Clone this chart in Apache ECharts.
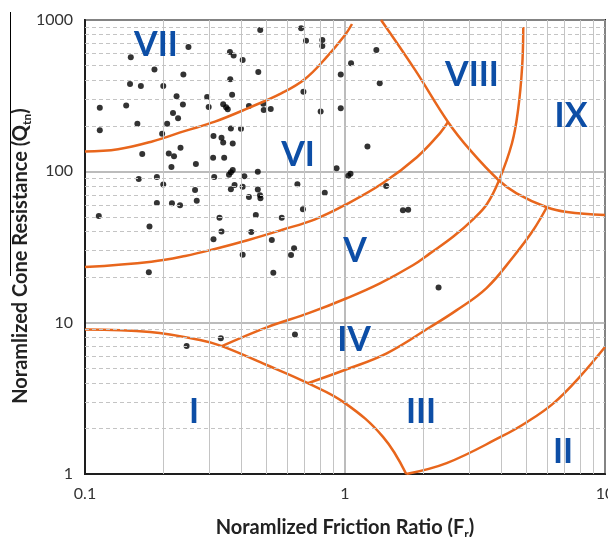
<!DOCTYPE html>
<html><head><meta charset="utf-8">
<script src="https://cdn.jsdelivr.net/npm/echarts@6/dist/echarts.min.js"></script>
<style>html,body{margin:0;padding:0;background:#fff}#c{width:608px;height:537px}</style>
</head><body><div id="c"></div>
<script>
// ---- data (Fr, Qtn) ----
const frValues = [0.114,0.114,0.113,0.144,0.150,0.149,0.159,0.164,0.166,0.161,0.177,0.176,0.185,0.189,0.189,0.198,0.200,0.200,0.207,0.210,0.215,0.216,0.218,0.220,0.225,0.228,0.232,0.233,0.238,0.239,0.250,0.265,0.269,0.267,0.295,0.299,0.312,0.311,0.314,0.312,0.246,0.335,0.340,0.343,0.340,0.349,0.354,0.361,0.373,0.362,0.368,0.370,0.364,0.370,0.364,0.358,0.376,0.364,0.329,0.335,0.333,0.404,0.398,0.404,0.410,0.427,0.427,0.404,0.436,0.454,0.462,0.462,0.464,0.471,0.473,0.472,0.485,0.487,0.518,0.523,0.530,0.571,0.620,0.637,0.642,0.656,0.678,0.692,0.689,0.708,0.806,0.818,0.818,0.836,0.928,0.963,0.963,1.03,1.05,1.055,1.22,1.32,1.36,1.44,1.67,1.75,2.29];
const qtnValues = [263,187,50.7,272,567,378,206,366,130,89,43.2,21.5,470,91.8,61.8,177,366,81.8,206,131,107,61.5,243,126,313,224,59.6,143,276,437,663,75.3,64.0,112,310,266,171,123,91.8,35.6,7.0,167,155,123,277,265,257,615,583,406,321,153,192,102,98.5,95.0,81.2,76.1,49.4,40.0,7.9,544,191,79.2,92.7,270,67.7,28.1,39.7,51.5,99.5,75.9,453,69.5,66.4,859,280,254,258,35.2,21.4,49.4,28.0,31.0,8.35,82.1,881,336,56.1,730,249,738,673,72.3,105,437,261,93.6,96.5,518,146,634,382,80.0,55.3,55.8,17.1];

// zone boundaries [Fr, Qtn]
const boundaryA = [[0.1,135],[0.134,140],[0.18,157],[0.243,185],[0.316,213],[0.425,262],[0.571,329],[0.702,408],[0.838,553],[1.0,796],[1.064,941]];
const boundaryB = [[0.1,23.3],[0.18,25.3],[0.243,27.6],[0.316,30.7],[0.425,35.2],[0.571,41.0],[0.767,48.2],[1.0,59.9],[1.40,83.7],[1.89,124],[2.32,179],[2.49,212]];
const boundaryC = [[1.376,1000],[1.86,468],[2.49,212],[3.03,138],[3.91,87],[4.57,71.6],[5.97,57.9],[7.14,53.9],[10,51.5]];
const boundaryD = [[4.85,900],[4.80,489],[4.63,254],[4.39,154],[3.91,87],[3.516,60.8],[3.116,48.4],[2.61,37.1],[2.123,28.7],[1.831,24.05],[1.363,18.2],[1.015,14.5],[0.733,11.64],[0.50,9.32],[0.336,7.0]];
const boundaryE = [[0.72,3.98],[1.015,4.92],[1.447,6.27],[2.12,9.32],[2.69,12.1],[3.51,17.0],[4.44,27.3],[5.30,41.0],[5.97,57.9]];
const boundaryF = [[0.1,9.0],[0.178,8.67],[0.277,7.68],[0.336,7.0],[0.50,5.25],[0.72,3.98],[1.0,2.94],[1.40,1.76],[1.72,1.0]];
const boundaryG = [[1.72,1.0],[2.46,1.18],[3.95,1.75],[5.0,2.2],[6.33,2.93],[8.01,4.40],[10,6.9]];

const xTickLabels = {0.1:'0.1', 1:'1', 10:'10'};
const yTickLabels = {1:'1', 10:'10', 100:'100', 1000:'1000'};
const xMinorGrid = [0.2,0.3,0.4,0.5,0.6,0.7,0.8,0.9,2,3,4,5,6,7,8,9];
const yMinorGrid = [2,3,4,5,6,7,8,9,20,30,40,50,60,70,80,90,200,300,400,500,600,700,800,900];
const zoneNames = ['VII','VI','V','IV','I','III','II','VIII','IX'];

const chart = echarts.init(document.getElementById('c'), null, {renderer:'canvas'});
const orange = '#E8661C';
const blue = '#0D4EA6';
const FONT = 'Lato';

const curve = (d) => ({
  type:'line', data:d, smooth:0.4, showSymbol:false, symbol:'none', silent:true, z:4,
  lineStyle:{color:orange, width:2.5}, animation:false
});

const labelPos = [[156,45],[298,155],[355,251],[354,340],[194,412],[421,412],[563,452],[472,75],[571,116]];
const titleRich = {
  m:{fontFamily:FONT, fontWeight:'bold', fontSize:20, fill:'#222', color:'#222', lineHeight:24},
  s:{fontFamily:FONT, fontWeight:'bold', fontSize:12, fill:'#222', color:'#222', lineHeight:15, verticalAlign:'bottom'}
};

chart.setOption({
  animation:false,
  grid:{left:85, right:3, top:20, bottom:63, outerBoundsMode:'none', containLabel:false,
    show:true, borderColor:'#1e1e1e', borderWidth:2, backgroundColor:'transparent'},
  xAxis:{
    type:'log', logBase:10, min:0.1, max:10,
    axisLine:{show:true, onZero:false, lineStyle:{color:'#1e1e1e', width:2}},
    axisTick:{show:false},
    axisLabel:{margin:12, color:'#333', fontFamily:FONT, fontSize:16, showMaxLabel:true, showMinLabel:true, hideOverlap:false,
      formatter:(v)=> xTickLabels[+v.toPrecision(3)] ?? ''},
    splitLine:{show:true, lineStyle:{color:'#a6a6a6', width:1.5}},
    name:'{m|Noramlized Friction Ratio (F}{s|r}{m|)}', nameLocation:'middle', nameGap:42,
    nameTextStyle:{rich:{
      m:{fontFamily:FONT, fontWeight:'bold', fontSize:20, color:'#222', lineHeight:24},
      s:{fontFamily:FONT, fontWeight:'bold', fontSize:12, color:'#222', lineHeight:15, verticalAlign:'bottom'}
    }}
  },
  yAxis:{
    type:'log', logBase:10, min:1, max:1000,
    axisLine:{show:true, onZero:false, lineStyle:{color:'#1e1e1e', width:2}},
    axisTick:{show:false},
    axisLabel:{margin:12, color:'#333', fontFamily:FONT, fontSize:16,
      formatter:(v)=> yTickLabels[+v.toPrecision(3)] ?? ''},
    splitLine:{show:true, lineStyle:{color:'#a6a6a6', width:1.5}}
  },
  series:[
    {type:'line', data:[], silent:true, z:1, markLine:{silent:true, symbol:'none', animation:false,
      label:{show:false}, emphasis:{disabled:true},
      lineStyle:{color:'#c4c4c4', type:'solid', width:1},
      data: xMinorGrid.map(v=>({xAxis:v}))}},
    {type:'line', data:[], silent:true, z:1, markLine:{silent:true, symbol:'none', animation:false,
      label:{show:false}, emphasis:{disabled:true},
      lineStyle:{color:'#c4c4c4', type:[4,3], width:1},
      data: yMinorGrid.map(v=>({yAxis:v}))}},
    {type:'scatter', data: frValues.map((f,i)=>[f, qtnValues[i]]), symbol:'circle', symbolSize:6,
      itemStyle:{color:'#000'}, z:3, silent:true},
    curve(boundaryA), curve(boundaryB), curve(boundaryC), curve(boundaryD),
    curve(boundaryE), curve(boundaryF), curve(boundaryG)
  ],
  graphic:[
    {type:'line', shape:{x1:10.5, y1:12, x2:10.5, y2:276}, style:{stroke:'#000', lineWidth:1}, silent:true},
    {type:'text', x:21, y:256, rotation:Math.PI/2, silent:true,
      style:{text:'{m|Noramlized Cone Resistance (Q}{s|tn}{m|)}', rich:titleRich,
        textAlign:'center', textVerticalAlign:'middle', align:'center', verticalAlign:'middle'}},
    ...zoneNames.map((t,i)=>({type:'text', x:labelPos[i][0], y:labelPos[i][1], z:10, silent:true,
      style:{text:t, font:'bold 34px '+FONT, fill:blue, textAlign:'center', textVerticalAlign:'middle', align:'center', verticalAlign:'middle'}}))
  ]
});
</script></body></html>
